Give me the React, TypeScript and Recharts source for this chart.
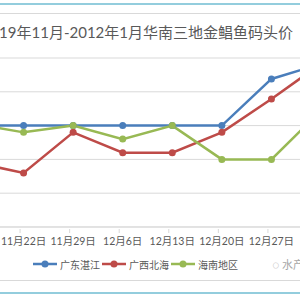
import React from "react";
import { LineChart, Line, XAxis, YAxis, CartesianGrid, Legend } from "recharts";

const categories = ["11月15日", "11月22日", "11月29日", "12月6日", "12月13日", "12月20日", "12月27日", "1月3日"];
const guangdong = [20, 20, 20, 20, 20, 20, 22.76, 23.65];
const guangxi = [17.83, 17.2, 19.6, 18.4, 18.4, 19.6, 21.57, 23.67];
const hainan = [20.1, 19.6, 20, 19.2, 20, 18, 18, 20.9];
const yTicks = [14, 16, 18, 20, 22, 24];
const seriesNames = ["广东湛江", "广西北海", "海南地区"];
const titleText = "2019年11月-2012年1月华南三地金鲳鱼码头价";

const COLORS = ["#4A7EBB", "#BE4B48", "#98B954"];
const FONT = "Lato, 'Noto Sans CJK SC', sans-serif";

const data = categories.map((c, i) => ({
  name: c,
  gd: guangdong[i],
  gx: guangxi[i],
  hn: hainan[i],
}));

const Tick = (props: any) => {
  const { x, y, payload } = props;
  return (
    <g>
      <line x1={x - 3.5} x2={x - 3.5} y1={y} y2={y + 4} stroke="#D9D9D9" strokeWidth={1} />
      <text x={x} y={y + 16} textAnchor="middle" fill="#595959" fontSize={10.5} fontFamily={FONT}>
        {payload.value}
      </text>
    </g>
  );
};

const LegendContent = () => (
  <div style={{ display: "flex", alignItems: "center", height: 20, paddingLeft: 59, fontFamily: FONT, fontSize: 10, color: "#595959" }}>
    {seriesNames.map((n, i) => (
      <div key={n} style={{ display: "flex", alignItems: "center", marginRight: 2 }}>
        <svg width={24} height={10}>
          <line x1={0} x2={24} y1={5} y2={5} stroke={COLORS[i]} strokeWidth={2.5} />
          <circle cx={12} cy={5} r={3.5} fill={COLORS[i]} />
        </svg>
        <span style={{ marginLeft: 3 }}>{n}</span>
      </div>
    ))}
  </div>
);

export default function App() {
  return (
    <div style={{ position: "fixed", left: 0, top: 0, width: 300, height: 300, overflow: "hidden", background: "#fff" }}>
      <div style={{ position: "absolute", left: 0, top: 3, width: 300, height: 2, background: "#93CDDD" }} />
      <div style={{ position: "absolute", left: 0, top: 13, width: 300, height: 1, background: "#D9D9D9" }} />
      <div style={{ position: "absolute", left: 0, top: 280, width: 300, height: 1, background: "#D9D9D9" }} />
      <div style={{ position: "absolute", left: 0, top: 292, width: 300, height: 2, background: "#93CDDD" }} />
      <div style={{ position: "absolute", right: 7, top: 22, whiteSpace: "nowrap", fontFamily: FONT, fontSize: 15, color: "#595959", lineHeight: "20px" }}>
        {titleText}
      </div>
      <div style={{ position: "absolute", left: 272, top: 256, whiteSpace: "nowrap", fontFamily: FONT, fontSize: 11, color: "#A6A6A6" }}>
        ◌ 水产
      </div>
      <div style={{ position: "absolute", left: -26, top: 0 }}>
        <LineChart width={347} height={280} data={data} margin={{ top: 58, right: 0, bottom: 6, left: 0 }}>
          <CartesianGrid vertical={false} stroke="#D9D9D9" />
          <YAxis hide domain={[14, 24]} ticks={yTicks} />
          <XAxis
            dataKey="name"
            height={27}
            tickSize={0}
            tickLine={false}
            axisLine={{ stroke: "#D9D9D9" }}
            tick={<Tick />}
            interval={0}
          />
          <Legend verticalAlign="bottom" height={20} content={<LegendContent />} />
          {["gd", "gx", "hn"].map((k, i) => (
            <Line
              key={k}
              dataKey={k}
              name={seriesNames[i]}
              stroke={COLORS[i]}
              strokeWidth={2.5}
              dot={{ r: 3.5, fill: COLORS[i], stroke: COLORS[i], strokeWidth: 0 }}
              isAnimationActive={false}
            />
          ))}
        </LineChart>
      </div>
    </div>
  );
}
